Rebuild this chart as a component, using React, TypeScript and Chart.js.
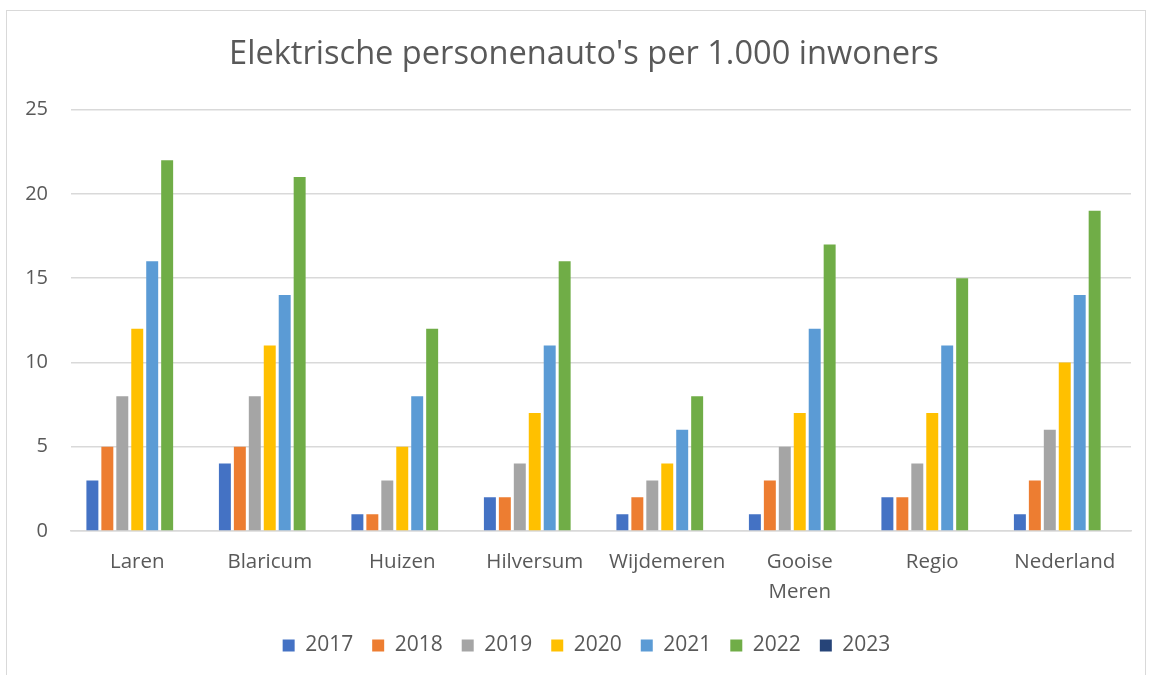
import { useEffect, useRef } from "react";
import { Chart, registerables } from "chart.js";
Chart.register(...registerables);

const categories: (string | string[])[] = ["Laren", "Blaricum", "Huizen", "Hilversum", "Wijdemeren", ["Gooise", "Meren"], "Regio", "Nederland"];
const years = ["2017", "2018", "2019", "2020", "2021", "2022", "2023"];
const v2017 = [3, 4, 1, 2, 1, 1, 2, 1];
const v2018 = [5, 5, 1, 2, 2, 3, 2, 3];
const v2019 = [8, 8, 3, 4, 3, 5, 4, 6];
const v2020 = [12, 11, 5, 7, 4, 7, 7, 10];
const v2021 = [16, 14, 8, 11, 6, 12, 11, 14];
const v2022 = [22, 21, 12, 16, 8, 17, 15, 19];
const v2023 = [null, null, null, null, null, null, null, null];
const seriesValues = [v2017, v2018, v2019, v2020, v2021, v2022, v2023];
const colors = ["#4472C4", "#ED7D31", "#A5A5A5", "#FFC000", "#5B9BD5", "#70AD47", "#264478"];
const yTicks = [0, 5, 10, 15, 20, 25];

const FONT = "'Open Sans', sans-serif";
const TXT = "#595959";

const shiftBoxes = {
  id: "shiftBoxes",
  afterLayout(chart: any) {
    if (chart.titleBlock) chart.titleBlock.left += 30;
    if (chart.legend) chart.legend.left += 35;
  },
};

export default function App() {
  const ref = useRef<HTMLCanvasElement>(null);
  useEffect(() => {
    const chart = new Chart(ref.current!, {
      type: "bar",
      data: {
        labels: categories,
        datasets: years.map((y, i) => ({
          label: y,
          data: seriesValues[i] as any,
          backgroundColor: colors[i],
          borderColor: colors[i],
          borderWidth: 0,
          barPercentage: 0.8,
          categoryPercentage: 0.79,
        })),
      },
      options: {
        animation: false,
        responsive: false,
        maintainAspectRatio: false,
        layout: { padding: { left: 0, right: 14, top: 0, bottom: 9 } },
        plugins: {
          title: {
            display: true,
            text: "Elektrische personenauto's per 1.000 inwoners",
            color: TXT,
            font: { family: FONT, size: 32.6, weight: "normal" as any, lineHeight: 1.2 },
            padding: { top: 24.5, bottom: 35 },
          },
          legend: {
            position: "bottom",
            labels: {
              color: TXT,
              font: { family: FONT, size: 21 },
              boxWidth: 12,
              boxHeight: 12,
              padding: 19,
            },
          },
          tooltip: { enabled: false },
        },
        scales: {
          x: {
            grid: { display: false },
            border: { display: true, color: "#d9d9d9", width: 1.5 },
            ticks: { color: TXT, font: { family: FONT, size: 20.5, lineHeight: 1.42 }, padding: 9, maxRotation: 0, autoSkip: false },
            afterFit: (s: any) => { s.height = 85; },
          },
          y: {
            min: 0,
            max: 25,
            afterBuildTicks: (s: any) => { s.ticks = yTicks.map((v) => ({ value: v })); },
            grid: { color: "#d9d9d9", lineWidth: 1.5, drawTicks: false },
            border: { display: false },
            ticks: { color: TXT, font: { family: FONT, size: 20 }, padding: 23 },
            afterFit: (s: any) => { s.width = 64; },
          },
        },
      },
      plugins: [shiftBoxes],
    });
    return () => chart.destroy();
  }, []);
  return (
    <div style={{ position: "absolute", left: 0, top: 0, width: 1151, height: 675, background: "#fff" }}>
      <div style={{ position: "absolute", left: 6, top: 10, width: 1138, height: 670, border: "1px solid #d9d9d9", boxSizing: "content-box" }}>
        <canvas ref={ref} width={1138} height={664} style={{ display: "block" }} />
      </div>
    </div>
  );
}
